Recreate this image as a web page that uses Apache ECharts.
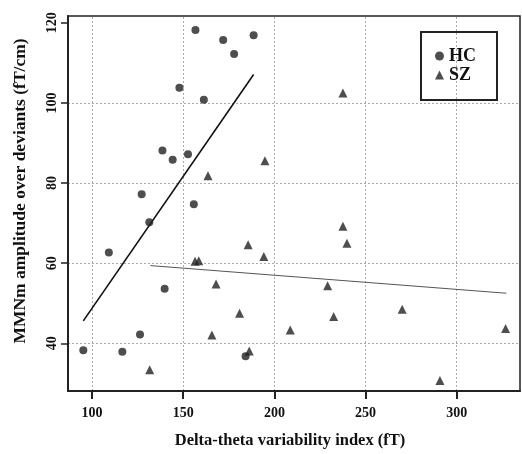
<!DOCTYPE html>
<html><head><meta charset="utf-8">
<script src="https://cdn.jsdelivr.net/npm/echarts@6/dist/echarts.min.js"></script>
<style>html,body{margin:0;padding:0;background:#fff}#c{width:522px;height:454px}</style>
</head><body><div id="c"></div>
<script>
const hcX = [156.7,171.9,188.6,177.9,147.9,161.3,138.6,144.2,152.6,127.2,155.8,131.4,109.2,139.8,126.3,95.2,116.6,184.2];
const hcY = [118.2,115.7,116.9,112.2,103.8,100.8,88.1,85.8,87.2,77.2,74.7,70.2,62.7,53.6,42.2,38.3,37.9,36.8];
const szX = [163.6,237.6,194.8,237.6,239.8,194.2,185.6,229.2,270.1,232.5,208.7,326.8,290.8,156.5,158.5,168,180.9,165.7,186.2,131.6];
const szY = [81.8,102.5,85.6,69.2,65,61.7,64.6,54.4,48.5,46.7,43.3,43.7,30.7,60.5,60.6,54.8,47.5,42.1,38.1,33.4];
const hcLineX = [95.2, 188.6];
const hcLineY = [45.6, 107.1];
const szLineX = [132, 327.2];
const szLineY = [59.4, 52.5];
const xTicks = [100,150,200,250,300];
const yTicks = [40,60,80,100,120];
const seriesNames = ['HC','SZ'];
const xTitle = 'Delta-theta variability index (fT)';
const yTitle = 'MMNm amplitude over deviants (fT/cm)';

const zip = (a,b) => a.map((v,i)=>[v,b[i]]);
const font = 'Liberation Serif';
const ink = '#111';

const chart = echarts.init(document.getElementById('c'), null, {renderer:'canvas'});
chart.setOption({
  backgroundColor:'#fff',
  animation:false,
  grid:{left:68,right:2,top:16,bottom:63,show:true,borderColor:'#222',borderWidth:1.5,backgroundColor:'transparent'},
  legend:{
    data:seriesNames, orient:'vertical', left:421, top:32,
    itemWidth:9, itemHeight:9, itemGap:1,
    padding:[15,21,16,14],
    borderColor:'#222', borderWidth:2,
    textStyle:{fontFamily:font,fontWeight:'bold',fontSize:18,lineHeight:16,color:ink}
  },
  xAxis:{
    type:'value', min:86.8, max:334.7,
    name:xTitle, nameLocation:'middle', nameGap:41,
    nameTextStyle:{fontFamily:font,fontWeight:'bold',fontSize:16.5,color:ink,padding:[0,8,0,0]},
    axisLine:{show:true,onZero:false,lineStyle:{color:'#222',width:2}},
    axisTick:{show:true,customValues:xTicks,length:8,lineStyle:{color:'#222',width:2}},
    axisLabel:{customValues:xTicks,margin:15,fontFamily:font,fontWeight:'bold',fontSize:14,color:ink},
    splitLine:{show:false}
  },
  yAxis:{
    type:'value', min:28.1, max:121.7,
    name:yTitle, nameLocation:'middle', nameGap:39,
    nameTextStyle:{fontFamily:font,fontWeight:'bold',fontSize:17.5,color:ink,padding:[0,0,0,25]},
    axisLine:{show:true,onZero:false,lineStyle:{color:'#222',width:2}},
    axisTick:{show:true,customValues:yTicks,length:7,lineStyle:{color:'#222',width:1.5}},
    axisLabel:{customValues:yTicks,rotate:90,margin:9,fontFamily:font,fontWeight:'bold',fontSize:14,color:ink},
    splitLine:{show:false}
  },
  series:[
    {type:'line', name:'grid', data:[], z:0, silent:true,
     markLine:{silent:true,symbol:'none',z:0,label:{show:false},
       lineStyle:{color:'#aaa',type:[2,2],width:1},
       data: xTicks.map(v=>({xAxis:v})).concat(yTicks.slice(0,4).map(v=>({yAxis:v})))}},
    {type:'scatter', name:seriesNames[0], symbol:'circle', symbolSize:8, data:zip(hcX,hcY),
     itemStyle:{color:'#222'}, z:3},
    {type:'scatter', name:seriesNames[1], symbol:'triangle', symbolSize:9, data:zip(szX,szY),
     itemStyle:{color:'#222'}, z:3},
    {type:'line', name:'HC fit', data:zip(hcLineX,hcLineY), symbol:'none',
     lineStyle:{color:'#111',width:1.6}, z:2},
    {type:'line', name:'SZ fit', data:zip(szLineX,szLineY), symbol:'none',
     lineStyle:{color:'#555',width:1}, z:2}
  ]
});
</script></body></html>
